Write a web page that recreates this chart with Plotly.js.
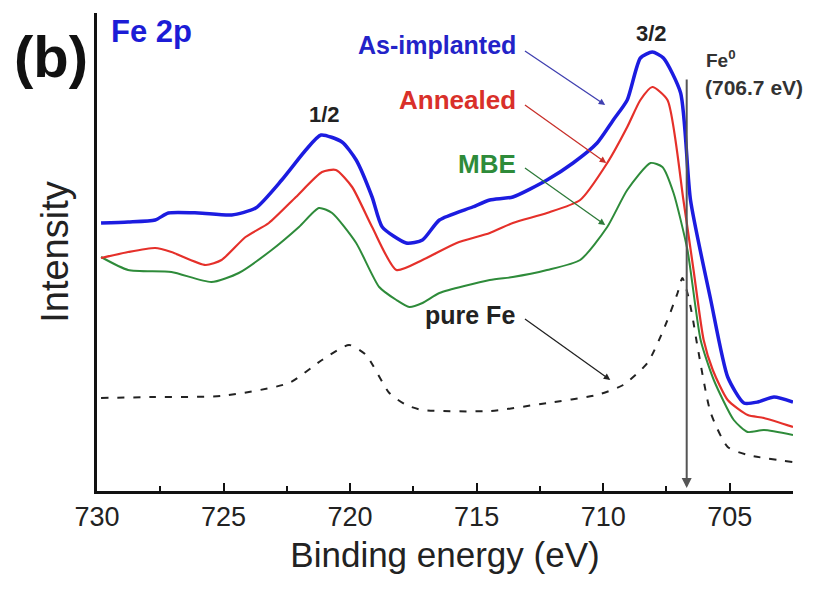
<!DOCTYPE html>
<html>
<head>
<meta charset="utf-8">
<script src="https://cdn.plot.ly/plotly-3.0.1.min.js"></script>
<style>html,body{margin:0;padding:0;background:#fff;}#chart{width:820px;height:589px;}</style>
</head>
<body>
<div id="chart"></div>
<script>
// Binding energy (eV) and intensity (arb. units)
const asImplantedX = [729.84,728.77,727.70,727.18,725.99,724.68,723.73,722.70,721.75,721.15,720.32,719.76,719.13,718.73,717.78,717.14,716.47,715.16,714.48,713.57,712.22,711.19,710.24,709.60,709.05,708.53,708.06,707.62,706.94,706.55,705.75,705.08,704.44,703.89,703.25,702.50];
const asImplantedY = [268,269,271,278,278,276,283,311,341,356,349,331,294,264,248,251,271,284,291,294,311,328,348,371,391,433,439,433,398,291,191,114,88,89,94,89];

const annealedX = [729.84,728.77,727.70,727.06,725.71,725.08,724.13,723.21,722.14,721.11,720.56,719.92,719.13,718.17,717.14,715.79,714.48,713.57,712.22,710.91,709.84,709.05,708.53,708.06,707.46,706.83,706.43,706.03,705.67,705.08,704.29,703.65,702.50];
const annealedY = [233,239,243,239,226,231,254,268,294,319,321,304,264,221,231,248,258,268,278,291,328,364,391,404,391,291,221,151,121,91,76,73,64];

const mbeX = [729.84,728.77,727.06,725.48,724.40,723.10,722.02,721.23,720.71,719.76,718.85,718.17,717.66,717.14,716.47,714.48,713.57,712.22,710.91,709.84,709.05,708.13,707.66,707.22,706.67,706.15,705.63,704.84,704.29,703.65,702.50];
const mbeY = [234,221,219,209,218,241,264,283,278,248,204,191,184,188,198,211,214,221,231,264,301,328,324,298,241,151,111,71,59,61,56];

const pureFeX = [729.84,727.70,725.08,722.42,721.11,720.04,719.37,718.45,717.78,717.14,714.48,712.22,710.24,709.21,708.25,707.62,707.06,706.87,706.63,706.47,706.27,705.75,705.08,704.29,702.50];
const pureFeY = [93,94,95,108,131,146,136,98,86,81,80,88,96,106,128,161,198,213,194,174,144,78,44,36,29];

const xTicks = [730,725,720,715,710,705];
const fe0Energy = 706.7;

const sp = {shape:'spline', smoothing:0.6};
const traces = [
  {x: pureFeX, y: pureFeY, mode:'lines', line:Object.assign({color:'#222', width:2, dash:'7px,9px'}, sp), name:'pure Fe'},
  {x: mbeX, y: mbeY, mode:'lines', line:Object.assign({color:'#2e8b3a', width:2}, sp), name:'MBE'},
  {x: annealedX, y: annealedY, mode:'lines', line:Object.assign({color:'#e5302a', width:2.2}, sp), name:'Annealed'},
  {x: asImplantedX, y: asImplantedY, mode:'lines', line:Object.assign({color:'#1c1ce0', width:3.5}, sp), name:'As-implanted'}
];

const FF = '"Liberation Sans", Arial, sans-serif';
function bold(t){return '<b>'+t+'</b>';}
function f(size, color){return {family:FF, size:size, color:color};}

const annotations = [
  {xref:'paper', yref:'paper', x:-0.066, y:0.91, xanchor:'center', yanchor:'middle', text:bold('(b)'), showarrow:false, font:f(58,'#111')},
  {xref:'paper', yref:'paper', x:0.017, y:0.962, xanchor:'left', yanchor:'middle', text:bold('Fe 2p'), showarrow:false, font:f(31,'#1c1cd6')},
  {x:713.35, y:446, xanchor:'right', yanchor:'middle', text:bold('As-implanted'), showarrow:false, font:f(25,'#2323c8')},
  {x:713.35, y:391, xanchor:'right', yanchor:'middle', text:bold('Annealed'), showarrow:false, font:f(26,'#d9302a')},
  {x:713.35, y:327, xanchor:'right', yanchor:'middle', text:bold('MBE'), showarrow:false, font:f(26,'#2e8b3a')},
  {x:713.40, y:176, xanchor:'right', yanchor:'middle', text:bold('pure Fe'), showarrow:false, font:f(25,'#222')},
  {x:721.03, y:377, xanchor:'center', yanchor:'middle', text:bold('1/2'), showarrow:false, font:f(22,'#222')},
  {x:708.10, y:458, xanchor:'center', yanchor:'middle', text:bold('3/2'), showarrow:false, font:f(22,'#222')},
  {x:706.00, y:432, xanchor:'left', yanchor:'middle', text:bold('Fe<sup>0</sup>'), showarrow:false, font:f(19,'#333')},
  {x:706.05, y:404, xanchor:'left', yanchor:'middle', text:bold('(706.7 eV)'), showarrow:false, font:f(21,'#333')},
  // arrows
  {x:709.92, y:386, ax:713.15, ay:441, axref:'x', ayref:'y', text:'', showarrow:true, arrowhead:2, arrowsize:1, arrowwidth:1.3, arrowcolor:'#4040b0'},
  {x:709.88, y:328, ax:713.15, ay:387, axref:'x', ayref:'y', text:'', showarrow:true, arrowhead:2, arrowsize:1, arrowwidth:1.3, arrowcolor:'#c8302a'},
  {x:709.92, y:266, ax:713.15, ay:324, axref:'x', ayref:'y', text:'', showarrow:true, arrowhead:2, arrowsize:1, arrowwidth:1.3, arrowcolor:'#2e7a3a'},
  {x:709.72, y:111, ax:713.15, ay:173, axref:'x', ayref:'y', text:'', showarrow:true, arrowhead:2, arrowsize:1, arrowwidth:1.3, arrowcolor:'#222'},
  {x:fe0Energy, y:3, ax:fe0Energy, ay:413, axref:'x', ayref:'y', text:'', showarrow:true, arrowhead:2, arrowsize:1, arrowwidth:2, arrowcolor:'#555'}
];

const layout = {
  width:820, height:589,
  margin:{l:97, r:27, t:13, b:98},
  paper_bgcolor:'#fff', plot_bgcolor:'#fff',
  showlegend:false,
  xaxis:{
    range:[730,702.5], tickvals:xTicks, ticktext:xTicks.map(String),
    ticks:'inside', ticklen:8, tickwidth:2, tickcolor:'#111',
    minor:{dtick:2.5, tick0:730, ticks:'inside', ticklen:5, tickwidth:2, tickcolor:'#111'},
    showline:true, linewidth:3, linecolor:'#111', showgrid:false, zeroline:false,
    tickfont:{family:FF, size:27, color:'#222'},
    title:{text:'Binding energy (eV)', standoff:12, font:{family:FF, size:35, color:'#222'}}
  },
  yaxis:{
    range:[0,478], showticklabels:false, ticks:'', showline:true, linewidth:3, linecolor:'#111',
    showgrid:false, zeroline:false,
    title:{text:'Intensity', standoff:14, font:{family:FF, size:38, color:'#222'}}
  },
  annotations: annotations
};

Plotly.newPlot('chart', traces, layout, {displayModeBar:false, staticPlot:true});
</script>
</body>
</html>
